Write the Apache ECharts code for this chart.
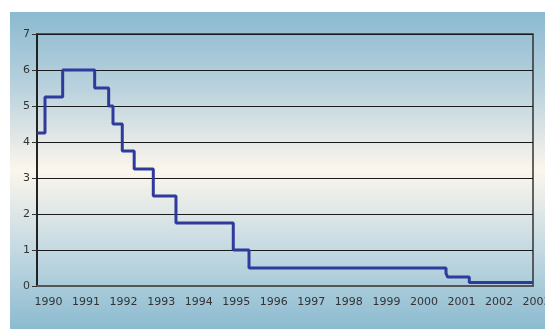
<!DOCTYPE html>
<html>
<head>
<meta charset="utf-8">
<script src="https://cdn.jsdelivr.net/npm/echarts@6/dist/echarts.min.js"></script>
<style>
  html, body { margin: 0; padding: 0; background: #ffffff; }
  #chart { width: 545px; height: 329px; }
</style>
</head>
<body>
<div id="chart"></div>
<script>
// Year labels along the bottom
const yearLabels = ['1990', '1991', '1992', '1993', '1994', '1995', '1996',
  '1997', '1998', '1999', '2000', '2001', '2002', '2003'];

// Rate changes: decimal year when each level begins, and the level (%)
const stepYears = [1989.694, 1989.907, 1990.378, 1991.230, 1991.603, 1991.718,
  1991.965, 1992.282, 1992.791, 1993.395, 1994.921, 1995.340, 2000.586,
  2000.631, 2001.206, 2002.903];
const rates = [4.25, 5.25, 6.0, 5.5, 5.0, 4.5, 3.75, 3.25, 2.5, 1.75, 1.0, 0.5,
  0.35, 0.25, 0.1, 0.1];

// Value-axis tick range
const rateTicks = { min: 0, max: 7, step: 1 };

const seriesData = stepYears.map((t, i) => [t, rates[i]]);

const chart = echarts.init(document.getElementById('chart'), null, { renderer: 'canvas' });

const labelFont = { fontFamily: 'DejaVu Sans', fontSize: 11, color: '#333333' };

chart.setOption({
  animation: false,
  graphic: [{
    type: 'rect',
    z: -10,
    silent: true,
    shape: { x: 10, y: 12, width: 535, height: 317 },
    style: {
      fill: new echarts.graphic.LinearGradient(0, 0, 0, 1, [
        { offset: 0, color: '#8bbad0' },
        { offset: 0.25, color: '#bcd3de' },
        { offset: 0.5, color: '#fcf6ec' },
        { offset: 0.75, color: '#c4d9e2' },
        { offset: 1, color: '#8bbbd0' }
      ])
    }
  }],
  grid: [
    { left: 37, right: 12, top: 34, bottom: 43, show: true, outerBoundsMode: 'none',
      borderColor: '#333333', borderWidth: 1.5, backgroundColor: 'transparent' },
    { left: 48.5, right: 8.4, top: 34, bottom: 43, outerBoundsMode: 'none' }
  ],
  xAxis: [
    {
      gridIndex: 0, type: 'value', min: stepYears[0], max: stepYears[stepYears.length - 1],
      axisLine: { show: true, lineStyle: { color: '#555555', width: 2 } },
      axisTick: { show: false }, axisLabel: { show: false }, splitLine: { show: false }
    },
    {
      gridIndex: 1, type: 'category', boundaryGap: false, data: yearLabels,
      axisLine: { show: false }, axisTick: { show: false }, splitLine: { show: false },
      axisLabel: Object.assign({
        margin: 11, interval: 0, hideOverlap: false,
        alignMinLabel: 'center', alignMaxLabel: 'center'
      }, labelFont)
    }
  ],
  yAxis: [
    {
      gridIndex: 0, type: 'value', min: rateTicks.min, max: rateTicks.max, interval: rateTicks.step,
      axisLine: { show: true, lineStyle: { color: '#111111', width: 1.5 } },
      axisTick: { show: true, length: 5, lineStyle: { color: '#333333' } },
      axisLabel: Object.assign({ margin: 7 }, labelFont),
      splitLine: { show: true, lineStyle: { color: '#1a1a1a', width: 1 } }
    },
    { gridIndex: 1, type: 'value', show: false, min: 0, max: 7 }
  ],
  series: [{
    type: 'line',
    xAxisIndex: 0,
    yAxisIndex: 0,
    step: 'end',
    data: seriesData,
    showSymbol: false,
    symbol: 'none',
    lineStyle: { color: '#2e3a9c', width: 3 }
  }]
});
</script>
</body>
</html>
